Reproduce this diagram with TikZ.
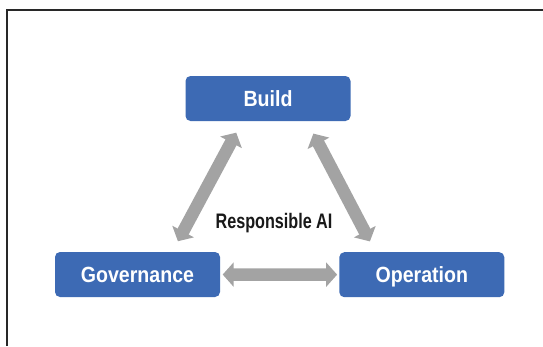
\documentclass[tikz,border=0pt]{standalone}
\usepackage{fontspec}
\usetikzlibrary{arrows.meta,calc}
\setmainfont{Liberation Sans}
\newfontfamily\boitefont[FakeStretch=0.89]{Liberation Sans}
\newfontfamily\etroitfont[FakeStretch=0.77]{Liberation Sans}
\definecolor{bleu}{RGB}{61,106,180}
\definecolor{gris}{RGB}{163,163,163}
\definecolor{cadre}{RGB}{40,40,40}

\begin{document}
\begin{tikzpicture}[x=1pt, y=-1pt]
        \tikzstyle{boite}=[rectangle, rounded corners=5pt, fill=bleu, text=white, minimum width=165pt, minimum height=45pt, inner sep=0, text height=15.8pt, text depth=0pt, font=\boitefont\bfseries\fontsize{22}{26}\selectfont];
        \tikzstyle{fleche}=[draw=gris, line width=12.5pt, {Triangle[width=24pt, length=11pt]}-{Triangle[width=24pt, length=11pt]}];

        \useasboundingbox[fill=white] (0,0) rectangle (543,346);
        \draw[cadre, line width=2.6pt] (7,346) -- (7,10) -- (543,10);

        \node[boite] (build) at (268,98.5) {Build};
        \node[boite] (gov) at (137.5,274.5) {Governance};
        \node[boite] (op) at (421.8,274.7) {Operation};
        \node[font=\etroitfont\bfseries\fontsize{21}{25}\selectfont, text=black!90, text height=15pt, text depth=0pt] (rai) at (274,220.5) {Responsible AI};

        \draw[fleche, shorten <=12pt, shorten >=13pt] ($(gov.north)!0.42!(gov.north east)$) -- ($(build.south west)!0.69!(build.south)$);
        \draw[fleche, shorten <=14pt, shorten >=12pt] ($(build.south)!0.47!(build.south east)$) -- ($(op.north west)!0.44!(op.north)$);
        \draw[fleche, shorten <=2.5pt, shorten >=2pt] (gov) -- (op);
    \end{tikzpicture}
\end{document}
